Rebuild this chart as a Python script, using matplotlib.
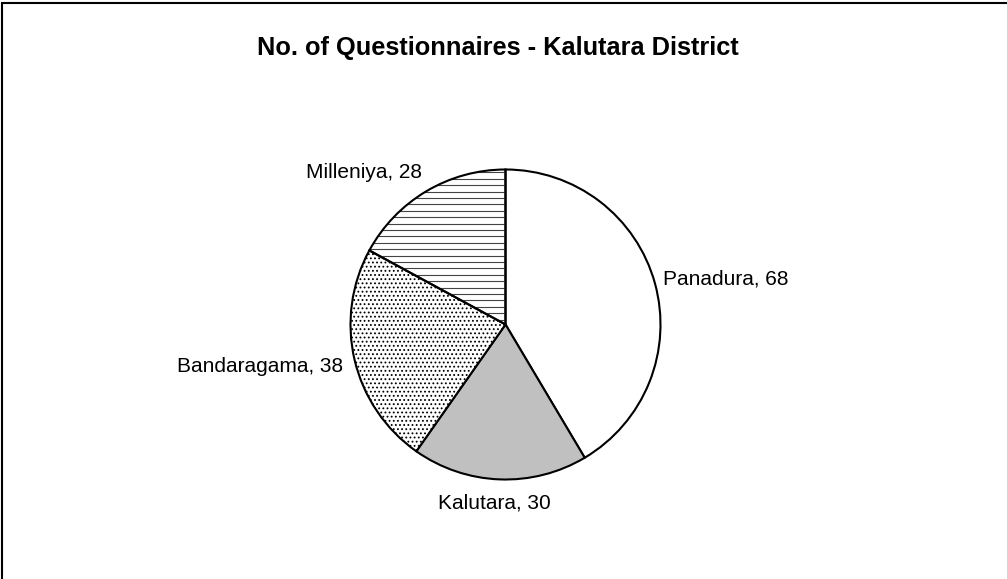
import matplotlib
matplotlib.use("Agg")
import matplotlib.pyplot as plt
import numpy as np
from matplotlib.patches import Rectangle

plt.rcParams['font.family'] = ['Liberation Sans', 'DejaVu Sans']
plt.rcParams['hatch.linewidth'] = 0.8

# data
towns = ['Panadura', 'Kalutara', 'Bandaragama', 'Milleniya']
counts = [68, 30, 38, 28]

# styling
face_cols = ['white', '#c0c0c0', 'white', 'white']
hatches = [None, None, '....', None]
# label anchor (x, y baseline, ha) in pie units
label_pos = [(1.016, 0.255, 'left'), (-0.074, -1.184, 'center'),
             (-1.048, -0.306, 'right'), (-0.539, 0.945, 'right')]

fig = plt.figure(figsize=(10.07, 5.79), dpi=100)

# outer chart border (only left/top visible in the crop)
fig.patches.append(Rectangle((0.002, -0.01), 1.05, 1.0066 - 0.002,
                             transform=fig.transFigure, fill=False,
                             edgecolor='black', linewidth=1.5))

fig.text(497.5 / 1007, 1 - 55 / 579, 'No. of Questionnaires - Kalutara District',
         ha='center', va='baseline', fontsize=18.3, fontweight='bold')

cx, cy, r = 505.5, 324.5, 155
ax = fig.add_axes([(cx - r) / 1007, (579 - cy - r) / 579, 2 * r / 1007, 2 * r / 579])
wedges, _ = ax.pie(counts, startangle=90, counterclock=False, radius=1,
                   colors=face_cols,
                   wedgeprops=dict(edgecolor='black', linewidth=1.5))
for w, h in zip(wedges, hatches):
    if h:
        w.set_hatch(h)

# horizontal stripes for Milleniya (wider spacing than mpl's '-' hatch allows)
for y in np.arange(-1, 1, 6.4 / r):
    ln, = ax.plot([-1, 1], [y, y], color='#444444', lw=0.8, zorder=1.5)
    ln.set_clip_path(wedges[3])
wedges[3].set_zorder(2)
wedges[3].set_facecolor('none')

for t, c, (x, y, ha) in zip(towns, counts, label_pos):
    ax.text(x, y, f'{t}, {c}', ha=ha, va='baseline', fontsize=15)

ax.set_xlim(-1, 1)
ax.set_ylim(-1, 1)
ax.set_aspect('auto')
ax.axis('off')

fig.savefig('out.png', dpi=100)
